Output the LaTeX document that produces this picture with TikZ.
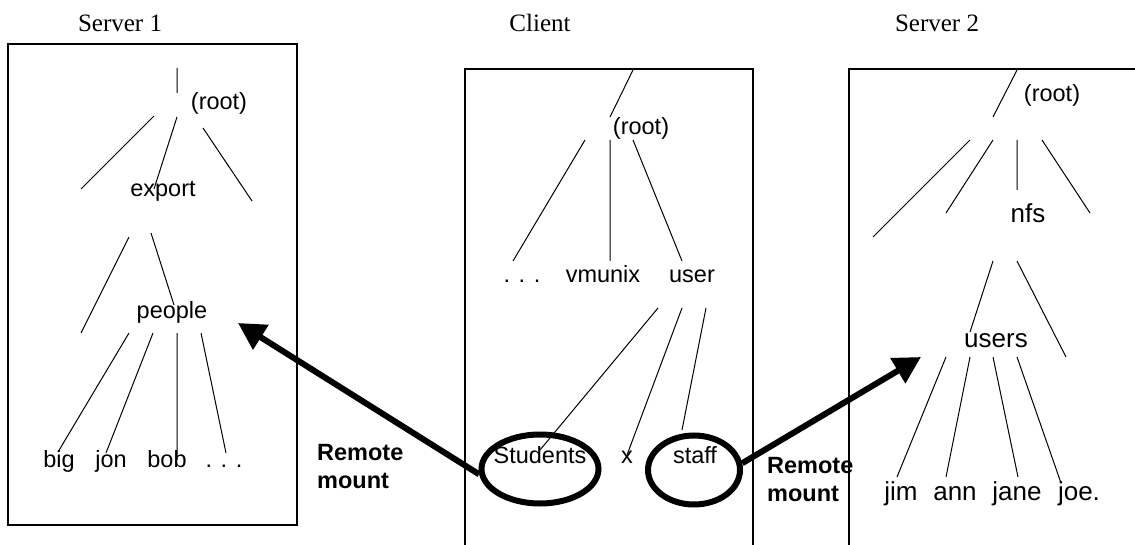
\documentclass[tikz,border=0pt]{standalone}
\usepackage{fontspec}
\setmainfont{Liberation Serif}
\newfontfamily\arial{Liberation Sans}
\usetikzlibrary{arrows.meta,shapes.geometric}
\tikzset{
  lbl/.style={anchor=base,inner sep=0pt,font=\arial\fontsize{23.5}{28}\selectfont},
  lblb/.style={anchor=base,inner sep=0pt,font=\arial\fontsize{26}{30}\selectfont},
  title/.style={anchor=base,inner sep=0pt,font=\fontsize{25}{30}\selectfont},
  rm/.style={anchor=base west,inner sep=0pt,font=\arial\bfseries\fontsize{23.5}{28}\selectfont},
  branch/.style={line width=1pt},
  frame/.style={line width=1.3pt},
  framethick/.style={line width=2.3pt},
  ring/.style={ellipse,draw,line width=6pt,inner sep=0pt},
  mountarrow/.style={line width=6pt,-{Triangle[length=27pt,width=28pt]}}
}
\begin{document}
\begin{tikzpicture}[x=1pt,y=-1pt]
\useasboundingbox (0,0) rectangle (1135,545);
% titles
\node[title] (t1) at (120,32) {Server 1};
\node[title] (t2) at (540,32) {Client};
\node[title] (t3) at (937,32) {Server 2};
% frames
\draw[frame] (8,44) rectangle (297,525);
\draw[framethick] (8,44) -- (57,44) (274,44) -- (297,44);
\draw[frame] (465,545) -- (465,69) -- (753,69) -- (753,545);
\draw[framethick] (465,69) -- (488,69) (682,69) -- (753,69);
\draw[framethick] (849,545) -- (849,69) -- (1135,69);
% Server 1 tree
\node[lbl] (s1root) at (219,110) {(root)};
\node[lbl] (export) at (163,197) {export};
\node[lbl] (people) at (172,319) {people};
\node[lbl] (big) at (59,467) {big};
\node[lbl] (jon) at (111,467) {jon};
\node[lbl] (bob) at (167,467) {bob};
\node[lbl] (s1dots) at (224,467) {. . .};
\draw[branch] (177,68) -- (177,93)
  (154,116) -- (81,189)
  (177,117) -- (154,189)
  (203,128) -- (252,201)
  (129,237) -- (81,333)
  (151,233) -- (174,305)
  (129,333) -- (58,452)
  (153,333) -- (106,453)
  (177,333) -- (177,460)
  (201,333) -- (226,453);
% Client tree
\node[lbl] (croot) at (641,135) {(root)};
\node[lbl] (cdots) at (522,283) {. . .};
\node[lbl] (vmunix) at (603,283) {vmunix};
\node[lbl] (user) at (692,283) {user};
\node[lbl] (students) at (540,463) {Students};
\node[lbl] (xx) at (627,463) {x};
\node[lbl] (staff) at (695,463) {staff};
\draw[branch] (633,70) -- (610,117)
  (585,140) -- (513,261)
  (610,140) -- (610,261)
  (633,140) -- (682,261)
  (658,308) -- (540,450)
  (682,308) -- (627,455)
  (706,308) -- (682,430);
\node[ring,minimum width=117pt,minimum height=69pt] (ringS) at (540,469) {};
\node[ring,minimum width=92pt,minimum height=69pt] (ringT) at (694,470) {};
% Server 2 tree
\node[lbl] (s2root) at (1052,102) {(root)};
\node[lblb] (nfs) at (1028,223) {nfs};
\node[lblb] (users) at (996,347) {users};
\node[lblb] (jim) at (901,500) {jim};
\node[lblb] (ann) at (955,500) {ann};
\node[lblb] (jane) at (1017,500) {jane};
\node[lblb] (joe) at (1079,500) {joe.};
\draw[branch] (1017,70) -- (993,117)
  (970,140) -- (873,237)
  (993,140) -- (946,213)
  (1017,140) -- (1017,190)
  (1042,140) -- (1090,213)
  (993,261) -- (970,332)
  (1017,261) -- (1066,357)
  (946,357) -- (897,477)
  (970,357) -- (946,477)
  (993,357) -- (1018,477)
  (1017,357) -- (1061,483);
% remote mount arrows
\coordinate (tipL) at (238,323);
\coordinate (tipR) at (921,357);
\draw[mountarrow] (ringS.185) -- (tipL);
\draw[mountarrow] (ringT.8) -- (tipR);
\node[rm] (rm1a) at (317,460) {Remote};
\node[rm] (rm1b) at (317,488) {mount};
\node[rm] (rm2a) at (767,473) {Remote};
\node[rm] (rm2b) at (767,501) {mount};
\end{tikzpicture}
\end{document}
